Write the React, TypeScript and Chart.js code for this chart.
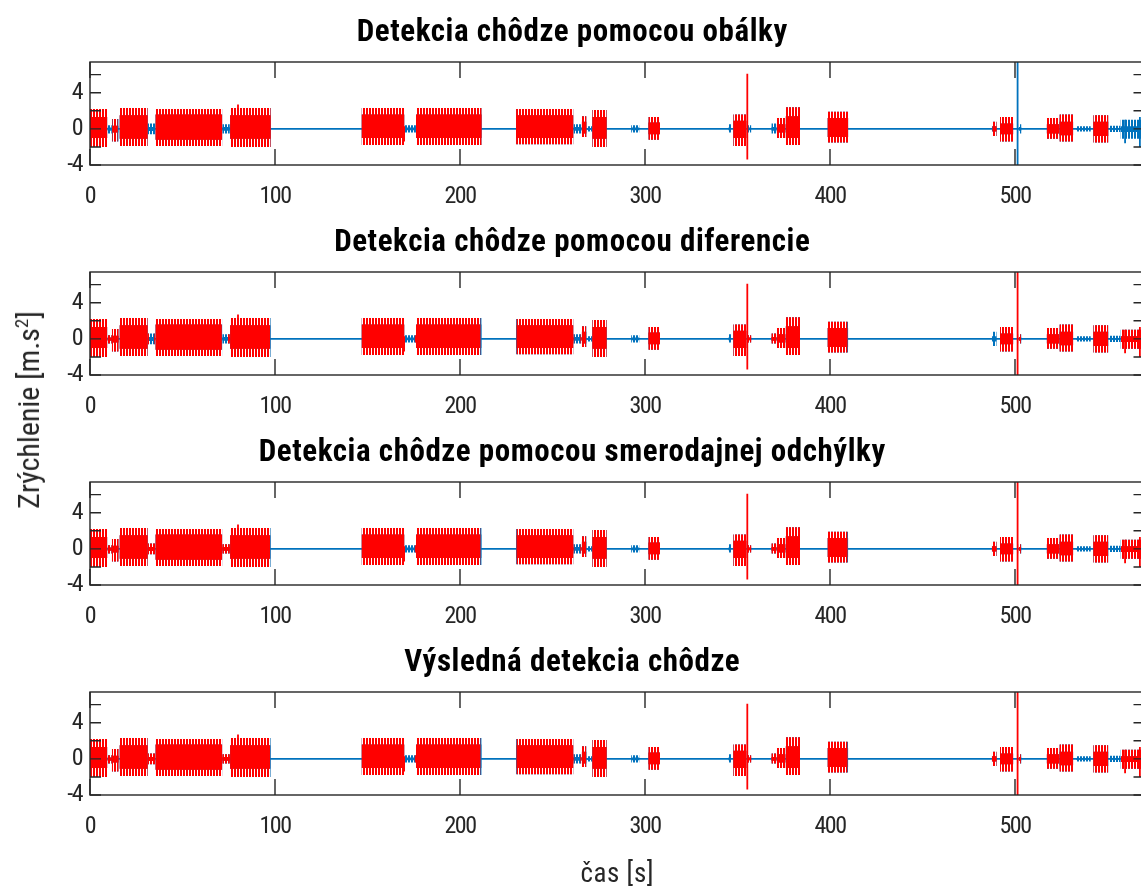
import { useEffect, useRef } from "react";
import { Chart, registerables } from "chart.js";
Chart.register(...registerables);

// ---------- data ----------
const X_MIN = 0;
const X_MAX = 570;
const Y_MIN = -4;
const Y_MAX = 7.4;
const xTicks = [0, 100, 200, 300, 400, 500];
const yTicks = [-4, -2, 0, 2, 4, 6];
const yLabeled = [-4, 0, 4];

const panelTitles = [
  "Detekcia chôdze pomocou obálky",
  "Detekcia chôdze pomocou diferencie",
  "Detekcia chôdze pomocou smerodajnej odchýlky",
  "Výsledná detekcia chôdze",
];
const xAxisTitle = "čas [s]";
const yAxisTitleMain = "Zrýchlenie [m.s";
const yAxisTitleSup = "2";
const yAxisTitleEnd = "]";

// signal activity segments: [t0, t1, peakHi, peakLo, coreHi, coreLo] (m.s^2)
const bursts: number[][] = [
  [0.0, 9.4, 2.2, -2.0, 1.3, -1.0],
  [9.4, 11.8, 0.4, -0.5, 0.15, -0.2],
  [11.8, 15.5, 1.1, -1.4, 0.35, -0.4],
  [15.9, 31.2, 2.3, -1.9, 1.5, -1.1],
  [31.2, 35.3, 0.6, -0.6, 0.2, -0.25],
  [35.3, 71.5, 2.2, -1.9, 1.6, -1.2],
  [71.5, 75.6, 0.5, -0.5, 0.2, -0.2],
  [75.7, 97.7, 2.3, -2.0, 1.5, -1.1],
  [146.8, 170.0, 2.3, -1.8, 1.6, -1.0],
  [170.0, 176.2, 0.4, -0.4, 0.15, -0.15],
  [176.2, 211.7, 2.3, -1.8, 1.6, -1.0],
  [230.3, 261.3, 2.2, -1.7, 1.5, -1.0],
  [261.3, 265.8, 0.5, -0.5, 0.2, -0.2],
  [265.8, 268.4, 1.4, -0.9, 0.8, -0.5],
  [268.4, 271.5, 0.3, -0.3, 0.1, -0.1],
  [271.5, 279.3, 2.1, -2.0, 1.3, -1.1],
  [292.5, 297.0, 0.4, -0.4, 0.15, -0.15],
  [301.8, 308.1, 1.3, -1.2, 0.7, -0.6],
  [345.0, 346.5, 0.5, -0.4, 0.15, -0.15],
  [347.7, 354.9, 1.6, -1.9, 0.9, -1.0],
  [355.6, 357.5, 0.4, -0.4, 0.15, -0.15],
  [368.3, 371.2, 0.6, -0.5, 0.2, -0.2],
  [371.2, 376.0, 1.2, -1.0, 0.5, -0.4],
  [376.0, 383.8, 2.4, -1.8, 1.4, -1.0],
  [398.6, 409.9, 1.9, -1.5, 1.2, -0.9],
  [487.5, 490.1, 0.8, -0.8, 0.3, -0.3],
  [491.9, 499.1, 1.3, -1.4, 0.6, -0.6],
  [502.0, 503.5, 0.5, -0.5, 0.2, -0.2],
  [517.1, 524.0, 1.2, -1.1, 0.5, -0.5],
  [524.0, 531.5, 1.6, -1.4, 0.8, -0.7],
  [533.0, 541.0, 0.3, -0.3, 0.1, -0.1],
  [542.3, 550.5, 1.5, -1.5, 0.8, -0.8],
  [551.0, 557.0, 0.35, -0.35, 0.1, -0.1],
  [557.0, 570.0, 1.0, -1.1, 0.3, -0.35],
];

// single large peaks: [t, hi, lo]
const spikes: number[][] = [
  [80.0, 2.7, -1.6],
  [169.8, 0.3, -1.4],
  [355.3, 6.1, -3.4],
  [501.4, 9.0, -6.0],
  [559.5, 1.0, -1.6],
  [567.5, 1.3, -2.0],
];

// detected walking intervals [t0, t1] (s)
const detectEnvelope: number[][] = [
  [0, 9.4], [12, 15], [15.9, 31.2], [35.3, 71.5], [75.7, 97.7], [146.8, 170],
  [176.2, 211.7], [230.3, 261.3], [265.8, 268.4], [271.5, 279.3], [301.8, 308.1],
  [347.7, 355.8], [371.2, 383.8], [398.6, 409.9], [487.7, 490.1], [491.9, 499.1],
  [517.1, 531.5], [542.3, 550.5],
];
const detectDifference: number[][] = [
  [0, 32.1], [34.7, 71.3], [74.5, 97.4], [146.8, 170], [175.5, 211.1],
  [230.5, 261.8], [265, 268.3], [271.2, 279.7], [301.6, 308.1], [347.3, 357.5],
  [368.3, 384], [398, 409.5], [491.4, 503.2], [516, 531.8], [541.5, 550.4],
  [557.3, 570],
];
const detectStd: number[][] = [
  [0, 97.4], [146.8, 170], [175.5, 211.1], [230.5, 261.8], [265, 268.3],
  [271.2, 279.7], [301.6, 308.1], [347.3, 357.5], [368.3, 384], [398, 409.5],
  [487.3, 503.2], [516, 531.8], [541.5, 550.4], [557.3, 570],
];
const detectFinal: number[][] = [
  [0, 97.4], [146.8, 170], [175.5, 211.1], [230.5, 261.8], [265, 268.3],
  [271.2, 279.7], [301.6, 308.1], [347.3, 357.5], [368.3, 384], [398, 409.5],
  [487.3, 503.2], [516, 531.8], [541.5, 550.4], [557.3, 570],
];
const detections = [detectEnvelope, detectDifference, detectStd, detectFinal];

// ---------- style ----------
const BLUE = "#0072BD";
const RED = "#FF0000";
const AXIS = "#262626";
const FONT_CANDIDATES = ["Liberation Sans Narrow", "Arial Narrow", "Roboto Condensed", "Noto Sans Condensed", "Open Sans Condensed", "DejaVu Sans Condensed"];
const CANVAS_W = 1150;
const PANEL_STEP = 210;
const PLOT_LEFT = 90;
const PLOT_RIGHT = 1144.5;
const PLOT_TOP = 62;
const PLOT_BOTTOM = 165;
const TITLE_SIZE = 31;
const TICK_SIZE = 24;
const TITLE_TARGET_W = 431; // width of first title in reference
const TICK_TARGET_W = 31; // width of "100" in reference

function detectFont(): string {
  const c = document.createElement("canvas").getContext("2d");
  if (!c) return "sans-serif";
  const sample = "Detekcia chôdze 0123456789";
  for (const f of FONT_CANDIDATES) {
    c.font = "bold 40px monospace";
    const w0 = c.measureText(sample).width;
    c.font = `bold 40px '${f}', monospace`;
    const w1 = c.measureText(sample).width;
    if (Math.abs(w1 - w0) > 0.5) return f;
  }
  return "sans-serif";
}

function measure(font: string, text: string): number {
  const c = document.createElement("canvas").getContext("2d");
  if (!c) return 0;
  c.font = font;
  return c.measureText(text).width;
}

function clamp(v: number, a: number, b: number) {
  return Math.max(a, Math.min(b, v));
}

function stripePattern(color: string): CanvasPattern | string {
  const c = document.createElement("canvas");
  c.width = 3;
  c.height = 1;
  const g = c.getContext("2d");
  if (!g) return color;
  g.fillStyle = color;
  g.fillRect(0, 0, 2, 1);
  const p = g.createPattern(c, "repeat");
  return p || color;
}

function band(t0: number, t1: number, hi: number, lo: number, bg: any, order: number): any[] {
  return [
    {
      data: [{ x: t0, y: hi }, { x: t1, y: hi }],
      fill: "+1",
      backgroundColor: bg,
      borderWidth: 0,
      pointRadius: 0,
      order,
    },
    {
      data: [{ x: t0, y: lo }, { x: t1, y: lo }],
      fill: false,
      borderWidth: 0,
      pointRadius: 0,
      order,
    },
  ];
}

function vline(t: number, hi: number, lo: number, color: string, order: number): any {
  return {
    data: [{ x: t, y: hi }, { x: t, y: lo }],
    borderColor: color,
    borderWidth: 1.8,
    fill: false,
    pointRadius: 0,
    order,
  };
}

function inside(t: number, detect: number[][]) {
  return detect.some((iv) => t >= iv[0] && t <= iv[1]);
}

function buildDatasets(detect: number[][], redStripe: any, blueStripe: any): any[] {
  const ds: any[] = [];
  ds.push({
    data: [{ x: X_MIN, y: 0 }, { x: X_MAX, y: 0 }],
    borderColor: BLUE,
    borderWidth: 1.6,
    fill: false,
    pointRadius: 0,
    order: 6,
  });
  for (const b of bursts) {
    ds.push(...band(b[0], b[1], b[2], b[3], blueStripe, 5));
    ds.push(...band(b[0], b[1], b[4], b[5], BLUE, 4));
  }
  for (const s of spikes) if (!inside(s[0], detect)) ds.push(vline(s[0], s[1], s[2], BLUE, 3));
  for (const b of bursts) {
    for (const iv of detect) {
      const s = Math.max(b[0], iv[0]);
      const e = Math.min(b[1], iv[1]);
      if (e > s) {
        ds.push(...band(s, e, b[2], b[3], redStripe, 2));
        ds.push(...band(s, e, b[4], b[5], RED, 1));
      }
    }
  }
  for (const s of spikes) if (inside(s[0], detect)) ds.push(vline(s[0], s[1], s[2], RED, 0));
  return ds;
}

const matlabAxes = {
  id: "matlabAxes",
  afterDatasetsDraw(chart: any) {
    const { ctx, chartArea: a, scales } = chart;
    const x = scales.x;
    const y = scales.y;
    ctx.save();
    ctx.strokeStyle = AXIS;
    ctx.lineWidth = 1.4;
    ctx.beginPath();
    for (const v of xTicks) {
      const px = x.getPixelForValue(v);
      ctx.moveTo(px, a.bottom);
      ctx.lineTo(px, a.bottom - 16);
      ctx.moveTo(px, a.top);
      ctx.lineTo(px, a.top + 16);
    }
    for (const v of yTicks) {
      const py = y.getPixelForValue(v);
      ctx.moveTo(a.left, py);
      ctx.lineTo(a.left + 11, py);
      ctx.moveTo(a.right, py);
      ctx.lineTo(a.right - 11, py);
    }
    ctx.stroke();
    ctx.strokeRect(a.left, a.top, a.right - a.left, a.bottom - a.top);
    ctx.restore();
  },
};

export default function App() {
  const refs = [useRef<HTMLCanvasElement>(null), useRef<HTMLCanvasElement>(null), useRef<HTMLCanvasElement>(null), useRef<HTMLCanvasElement>(null)];
  const ylabRef = useRef<HTMLDivElement>(null);

  useEffect(() => {
    const fam = detectFont();
    const FONT = `'${fam}', sans-serif`;
    if (ylabRef.current) ylabRef.current.style.fontFamily = FONT;
    const tW = measure(`bold ${TITLE_SIZE}px ${FONT}`, panelTitles[0]);
    const titleLS = clamp((TITLE_TARGET_W - tW) / panelTitles[0].length, -2, 1.5);
    const kW = measure(`${TICK_SIZE}px ${FONT}`, "100");
    const tickLS = clamp((TICK_TARGET_W - kW) / 3, -2.5, 0.5);

    const spacing = {
      id: "spacing",
      beforeDraw(chart: any) {
        (chart.ctx as any).letterSpacing = `${titleLS}px`;
      },
      afterDatasetsDraw(chart: any) {
        (chart.ctx as any).letterSpacing = `${tickLS}px`;
      },
    };

    const redStripe = stripePattern(RED);
    const blueStripe = stripePattern(BLUE);
    const charts: Chart[] = [];
    refs.forEach((r, i) => {
      const canvas = r.current;
      if (!canvas) return;
      const last = i === 3;
      const h = last ? 891 - PANEL_STEP * 3 : PANEL_STEP;
      const titleTop = 15;
      const chart = new Chart(canvas, {
        type: "line",
        data: { datasets: buildDatasets(detections[i], redStripe, blueStripe) },
        options: {
          animation: false,
          responsive: false,
          devicePixelRatio: 1,
          events: [],
          layout: { padding: { left: 0, right: CANVAS_W - PLOT_RIGHT, top: 0, bottom: 0 } },
          plugins: {
            legend: { display: false },
            tooltip: { enabled: false },
            title: {
              display: true,
              text: panelTitles[i],
              color: "#000000",
              font: { family: FONT, size: TITLE_SIZE, weight: "bold", lineHeight: 1.2 },
              padding: { top: titleTop, bottom: PLOT_TOP - titleTop - TITLE_SIZE * 1.2 },
            },
          },
          scales: {
            x: {
              type: "linear",
              min: X_MIN,
              max: X_MAX,
              afterBuildTicks: (s: any) => {
                s.ticks = xTicks.map((v) => ({ value: v }));
              },
              afterFit: (s: any) => {
                s.height = h - PLOT_BOTTOM;
              },
              grid: { display: false, drawTicks: false },
              border: { display: false },
              ticks: {
                color: AXIS,
                font: { family: FONT, size: TICK_SIZE },
                padding: 18,
                maxRotation: 0,
                autoSkip: false,
                z: 1,
              },
              title: {
                display: last,
                text: xAxisTitle,
                color: AXIS,
                font: { family: FONT, size: 27 },
                padding: { top: 0, bottom: 0 },
              },
            },
            y: {
              type: "linear",
              min: Y_MIN,
              max: Y_MAX,
              afterBuildTicks: (s: any) => {
                s.ticks = yTicks.map((v) => ({ value: v }));
              },
              afterFit: (s: any) => {
                s.width = PLOT_LEFT;
              },
              grid: { display: false, drawTicks: false },
              border: { display: false },
              ticks: {
                color: AXIS,
                font: { family: FONT, size: TICK_SIZE },
                padding: 8,
                z: 1,
                callback: (v: any) => (yLabeled.includes(Number(v)) ? String(v) : ""),
              },
            },
          },
        } as any,
        plugins: [matlabAxes, spacing],
      });
      charts.push(chart);
    });
    return () => charts.forEach((c) => c.destroy());
  }, []);

  return (
    <div style={{ position: "absolute", left: 0, top: 0, width: 1141, height: 891, overflow: "hidden", background: "#fff" }}>
      {refs.map((r, i) => (
        <canvas
          key={i}
          ref={r}
          width={CANVAS_W}
          height={i === 3 ? 891 - PANEL_STEP * 3 : PANEL_STEP}
          style={{ position: "absolute", left: 0, top: PANEL_STEP * i, display: "block" }}
        />
      ))}
      <div
        ref={ylabRef}
        style={{
          position: "absolute",
          left: 28,
          top: 410,
          transform: "translate(-50%, -50%) rotate(-90deg)",
          whiteSpace: "nowrap",
          fontFamily: "sans-serif",
          fontSize: 30,
          color: AXIS,
          lineHeight: 1,
        }}
      >
        {yAxisTitleMain}
        <sup style={{ fontSize: 19 }}>{yAxisTitleSup}</sup>
        {yAxisTitleEnd}
      </div>
    </div>
  );
}
